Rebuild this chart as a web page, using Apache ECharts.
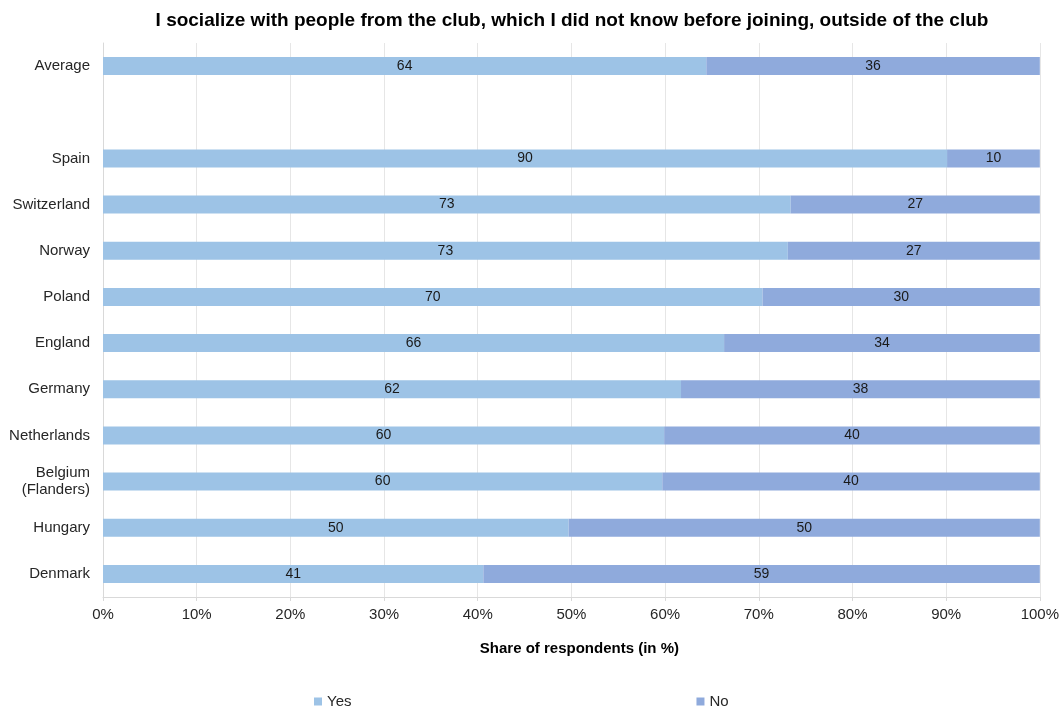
<!DOCTYPE html>
<html><head><meta charset="utf-8">
<script src="https://cdn.jsdelivr.net/npm/echarts@6/dist/echarts.min.js"></script>
<style>html,body{margin:0;padding:0;background:#fff}#c{width:1062px;height:709px}</style>
</head><body><div id="c"></div>
<script>
const categories = ["Average", "", "Spain", "Switzerland", "Norway", "Poland", "England", "Germany", "Netherlands", "Belgium\n(Flanders)", "Hungary", "Denmark"];
const yesValues = [64.4, null, 90.1, 73.4, 73.1, 70.4, 66.3, 61.7, 59.9, 59.7, 49.7, 40.6];
const noValues  = [35.6, null, 9.9, 26.6, 26.9, 29.6, 33.7, 38.3, 40.1, 40.3, 50.3, 59.4];
const xTicks = [0, 10, 20, 30, 40, 50, 60, 70, 80, 90, 100];

const chart = echarts.init(document.getElementById('c'), null, {renderer: 'canvas'});
const font = 'Liberation Sans, Arial, sans-serif';
const lbl = {show: true, position: 'inside', color: '#1a1a1a', fontSize: 14, fontFamily: font,
  formatter: p => p.value == null ? '' : Math.round(p.value)};
chart.setOption({
  animation: false,
  title: {text: 'I socialize with people from the club, which I did not know before joining, outside of the club',
    left: 567, textAlign: 'center', top: 6,
    textStyle: {fontSize: 19, fontWeight: 'bold', color: '#000', fontFamily: font}},
  grid: {left: 103, right: 21, top: 43, bottom: 112},
  legend: {top: 689, left: 309, itemWidth: 8, itemHeight: 8, itemGap: 345, icon: 'rect',
    textStyle: {fontSize: 15, color: '#262626', fontFamily: font},
    data: ['Yes', 'No']},
  xAxis: {type: 'value', min: 0, max: 100, interval: 10,
    name: 'Share of respondents (in %)', nameLocation: 'middle', nameGap: 44,
    nameTextStyle: {fontSize: 15, fontWeight: 'bold', color: '#000', fontFamily: font, padding: [0, 0, 0, 16]},
    axisLine: {show: true, lineStyle: {color: '#d9d9d9'}},
    axisTick: {show: true, length: 4, lineStyle: {color: '#d9d9d9'}},
    axisLabel: {formatter: v => v + '%', fontSize: 15, color: '#262626', fontFamily: font, margin: 10},
    splitLine: {show: true, lineStyle: {color: '#e6e6e6', width: 1}}},
  yAxis: {type: 'category', inverse: true, data: categories,
    axisLine: {show: true, lineStyle: {color: '#d9d9d9'}},
    axisTick: {show: false},
    axisLabel: {fontSize: 15, color: '#262626', fontFamily: font, margin: 13, lineHeight: 17, align: 'right'}},
  series: [
    {name: 'Yes', type: 'bar', stack: 'a', data: yesValues, barWidth: 18,
      itemStyle: {color: '#9DC3E6'}, label: lbl},
    {name: 'No', type: 'bar', stack: 'a', data: noValues, barWidth: 18,
      itemStyle: {color: '#8FAADC'}, label: lbl}
  ]
});
</script></body></html>
